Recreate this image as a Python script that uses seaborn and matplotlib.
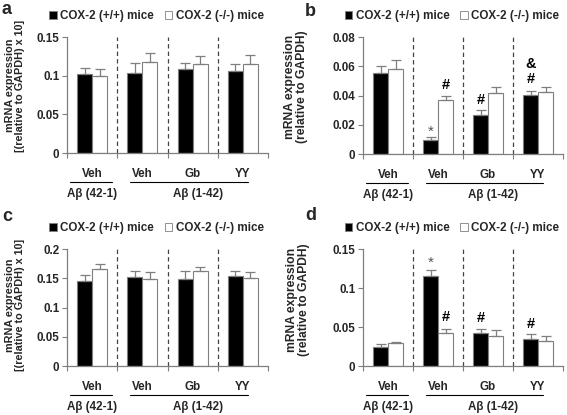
import numpy as np
import pandas as pd
import seaborn as sns
import matplotlib
matplotlib.use("Agg")
import matplotlib.pyplot as plt
from matplotlib.patches import Patch
from matplotlib.container import BarContainer
from matplotlib.ticker import FormatStrFormatter, FixedLocator
from matplotlib.transforms import blended_transform_factory, ScaledTranslation

# ---------------- data ----------------
conditions = ["Aβ(42-1) Veh", "Aβ(1-42) Veh", "Aβ(1-42) Gb", "Aβ(1-42) YY"]
treatments = ["Veh", "Veh", "Gb", "YY"]
genotypes = ["COX-2 (+/+) mice", "COX-2 (-/-) mice"]

wt_a = [0.102, 0.104, 0.108, 0.1055]
wt_a_err = [0.008, 0.012, 0.008, 0.010]
ko_a = [0.100, 0.118, 0.115, 0.115]
ko_a_err = [0.009, 0.011, 0.011, 0.012]

wt_b = [0.0553, 0.0096, 0.0265, 0.0402]
wt_b_err = [0.0048, 0.0018, 0.0037, 0.0028]
ko_b = [0.0580, 0.0368, 0.0420, 0.0425]
ko_b_err = [0.0060, 0.0030, 0.0040, 0.0032]

wt_c = [0.146, 0.1516, 0.1487, 0.153]
wt_c_err = [0.0096, 0.0104, 0.0133, 0.009]
ko_c = [0.1664, 0.149, 0.162, 0.151]
ko_c_err = [0.0074, 0.012, 0.008, 0.009]

wt_d = [0.0248, 0.116, 0.0426, 0.0348]
wt_d_err = [0.0032, 0.007, 0.0054, 0.0056]
ko_d = [0.029, 0.0426, 0.038, 0.0317]
ko_d_err = [0.002, 0.0054, 0.0077, 0.0073]

# significance marks: (category index, genotype index, symbol, offset px)
marks_b = [(1, 0, "*", 10), (1, 1, "#", 12), (2, 0, "#", 11), (3, 0, "#", 13), (3, 0, "&", 28)]
marks_d = [(1, 0, "*", 11), (1, 1, "#", 13), (2, 0, "#", 12), (3, 0, "#", 11)]

panels = [
    dict(label="a", wt=wt_a, wte=wt_a_err, ko=ko_a, koe=ko_a_err, ymax=0.15, step=0.05,
         ylabel="mRNA expression\n[(relative to GAPDH) x 10]", marks=[], yfs=7.8,
         rect=(67, 37, 201, 116), lab=(2, 10), ylc=(-42, 0.58)),
    dict(label="b", wt=wt_b, wte=wt_b_err, ko=ko_b, koe=ko_b_err, ymax=0.08, step=0.02,
         ylabel="mRNA expression\n(relative to GAPDH)", marks=marks_b, yfs=8.7,
         rect=(363, 37, 200, 117), lab=(305, 11), ylc=(-55, 0.573)),
    dict(label="c", wt=wt_c, wte=wt_c_err, ko=ko_c, koe=ko_c_err, ymax=0.2, step=0.05,
         ylabel="mRNA expression\n[(relative to GAPDH) x 10]", marks=[], yfs=7.8,
         rect=(67, 249, 201, 117), lab=(2, 216), ylc=(-42, 0.52)),
    dict(label="d", wt=wt_d, wte=wt_d_err, ko=ko_d, koe=ko_d_err, ymax=0.15, step=0.05,
         ylabel="mRNA expression\n(relative to GAPDH)", marks=marks_d, yfs=8.7,
         rect=(363, 249, 200, 117), lab=(305, 215), ylc=(-53, 0.564)),
]

# ---------------- style ----------------
sns.set_style("white")
plt.rcParams["font.family"] = ["Liberation Sans", "DejaVu Sans"]
plt.rcParams["font.weight"] = "bold"
FS = 8.4
GRAY = "#7f7f7f"

W, H = 567, 415
fig = plt.figure(figsize=(W / 100, H / 100), dpi=100)


def below(ax, px):
    return blended_transform_factory(ax.transData, ax.transAxes) + \
        ScaledTranslation(0, -px / 100, fig.dpi_scale_trans)


for p in panels:
    l, t, w, h = p["rect"]
    ax = fig.add_axes([l / W, 1 - (t + h) / H, w / W, h / H])
    df = pd.DataFrame({
        "condition": conditions * 2,
        "genotype": [genotypes[0]] * 4 + [genotypes[1]] * 4,
        "value": list(p["wt"]) + list(p["ko"]),
    })
    sns.barplot(data=df, x="condition", y="value", hue="genotype", order=conditions,
                hue_order=genotypes, palette=["black", "white"], saturation=1,
                width=0.6, gap=0, errorbar=None, edgecolor=GRAY, linewidth=0.8,
                legend=False, ax=ax)
    errs = [p["wte"], p["koe"]]
    vals = [p["wt"], p["ko"]]
    bar_conts = [c for c in ax.containers if isinstance(c, BarContainer)]
    centers = []
    for gi, cont in enumerate(bar_conts):
        bars = sorted(cont.patches, key=lambda r: r.get_x())
        xs = [b.get_x() + b.get_width() / 2 for b in bars]
        centers.append(xs)
    for gi in range(2):
        ax.errorbar(centers[gi], vals[gi], yerr=[np.zeros(4), errs[gi]], fmt="none",
                    ecolor=GRAY, elinewidth=0.9, capsize=3.5, capthick=0.9, zorder=1)
    for ci, gi, sym, off in p["marks"]:
        x = centers[gi][ci]
        y = vals[gi][ci] + errs[gi][ci]
        if sym == "*":
            tr = ax.transData + ScaledTranslation(0, (off - 8) / 100, fig.dpi_scale_trans)
            ax.text(x, y, sym, transform=tr, ha="center", va="baseline", fontsize=11,
                    fontweight="normal", color="#555555")
        else:
            tr = ax.transData + ScaledTranslation(0, (off - 5) / 100, fig.dpi_scale_trans)
            ax.text(x, y, sym, transform=tr, ha="center", va="baseline", fontsize=10.5,
                    fontweight="bold", color="black")

    ax.set_xlim(-0.5, 3.5)
    ax.set_ylim(0, p["ymax"])
    ax.set_yticks(np.arange(0, p["ymax"] + 1e-9, p["step"]))
    ax.yaxis.set_major_formatter(FormatStrFormatter("%g"))
    ax.set_xticks(range(4))
    ax.set_xticklabels(treatments)
    ax.xaxis.set_minor_locator(FixedLocator([-0.5, 0.5, 1.5, 2.5, 3.5]))
    ax.tick_params(axis="x", which="major", length=0, pad=11, labelsize=FS)
    ax.tick_params(axis="x", which="minor", length=3.5, width=0.8, color=GRAY, direction="out", bottom=True)
    ax.tick_params(axis="y", length=3.5, width=0.8, color=GRAY, direction="out", left=True, labelsize=FS, pad=2)
    for lab in ax.get_xticklabels() + ax.get_yticklabels():
        lab.set_fontweight("bold")
    for s in ["top", "right"]:
        ax.spines[s].set_visible(False)
    for s in ["left", "bottom"]:
        ax.spines[s].set_color(GRAY)
        ax.spines[s].set_linewidth(0.9)
    ax.set_xlabel("")
    ax.set_ylabel(p["ylabel"], fontsize=p["yfs"], fontweight="bold", linespacing=1.0)
    ax.yaxis.set_label_coords(p["ylc"][0] / w, p["ylc"][1])

    ax.vlines([0.5, 1.5, 2.5], 0, p["ymax"], colors="#444444", linestyles=(0, (3.5, 2.5)), lw=0.9)

    # group underlines and labels
    ax.plot([-0.45, 0.4], [0, 0], color="black", lw=0.8, transform=below(ax, 29), clip_on=False)
    ax.plot([0.75, 3.1], [0, 0], color="black", lw=0.8, transform=below(ax, 29), clip_on=False)
    ax.text(0, 0, "Aβ (42-1)", transform=below(ax, 41), ha="center", va="center",
            fontsize=FS, fontweight="bold")
    ax.text(2.1, 0, "Aβ (1-42)", transform=below(ax, 41), ha="center", va="center",
            fontsize=FS, fontweight="bold")

    handles = [Patch(facecolor="black", edgecolor=GRAY, linewidth=0.6),
               Patch(facecolor="white", edgecolor=GRAY, linewidth=0.6)]
    ax.legend(handles, genotypes, ncol=2, loc="center", frameon=False,
              bbox_to_anchor=(0.5 - 11 / w, 1 + 21 / h),
              handlelength=0.65, handleheight=0.65, handletextpad=0.3, columnspacing=0.9,
              borderpad=0, borderaxespad=0, prop=dict(weight="bold", size=FS))

    fig.text(p["lab"][0] / W, 1 - p["lab"][1] / H, p["label"], fontsize=13,
             fontweight="bold", ha="left", va="center")

fig.savefig("out.png", dpi=100)
